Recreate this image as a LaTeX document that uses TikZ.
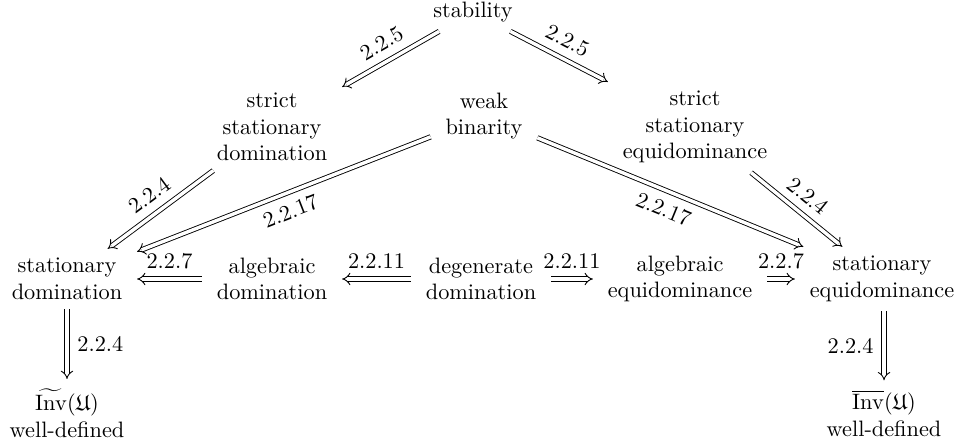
\documentclass[tikz,border=0pt]{standalone}
\usepackage{amssymb}
\usetikzlibrary{arrows.meta}
\begin{document}
\begin{tikzpicture}[x=0.4484pt,y=-0.4484pt,
  cell/.style={align=center,inner xsep=0.65em,inner ysep=0.4em},
  arr/.style={double,double equal sign distance,-Implies},
  lab/.style={inner sep=4.5pt}]
\useasboundingbox (0,0) rectangle (962,441);
\node[cell] (stab) at (473,12) {stability};
\node[cell] (ssd) at (272,127) {strict\\stationary\\domination};
\node[cell] (wb) at (484,116) {weak\\binarity};
\node[cell] (sse) at (695,127) {strict\\stationary\\equidominance};
\node[cell] (sd) at (67,279) {stationary\\domination};
\node[cell] (ad) at (272,279) {algebraic\\domination};
\node[cell] (dd) at (481,279) {degenerate\\domination};
\node[cell] (ae) at (680,279) {algebraic\\equidominance};
\node[cell] (se) at (882,279) {stationary\\equidominance};
\node[cell] (il) at (67,413) {$\widetilde{\mathrm{Inv}}(\mathfrak{U})$\\well-defined};
\node[cell] (ir) at (884,413) {$\overline{\mathrm{Inv}}(\mathfrak{U})$\\well-defined};
\draw[arr] (stab) -- node[lab,sloped,above] {2.2.5} (ssd);
\draw[arr] (stab) -- node[lab,sloped,above] {2.2.5} (sse);
\draw[arr] (ssd) -- node[lab,sloped,above] {2.2.4} (sd);
\draw[arr] (sse) -- node[lab,sloped,above] {2.2.4} (se);
\draw[arr] (wb) -- node[lab,sloped,below] {2.2.17} (sd);
\draw[arr] (wb) -- node[lab,sloped,below] {2.2.17} (se);
\draw[arr] (ad) -- node[lab,above] {2.2.7} (sd);
\draw[arr] (dd) -- node[lab,above] {2.2.11} (ad);
\draw[arr] (dd) -- node[lab,above] {2.2.11} (ae);
\draw[arr] (ae) -- node[lab,above] {2.2.7} (se);
\draw[arr] (sd) -- node[lab,right] {2.2.4} (il);
\draw[arr] (se.south -| ir) -- node[lab,left] {2.2.4} (ir);
\end{tikzpicture}
\end{document}
